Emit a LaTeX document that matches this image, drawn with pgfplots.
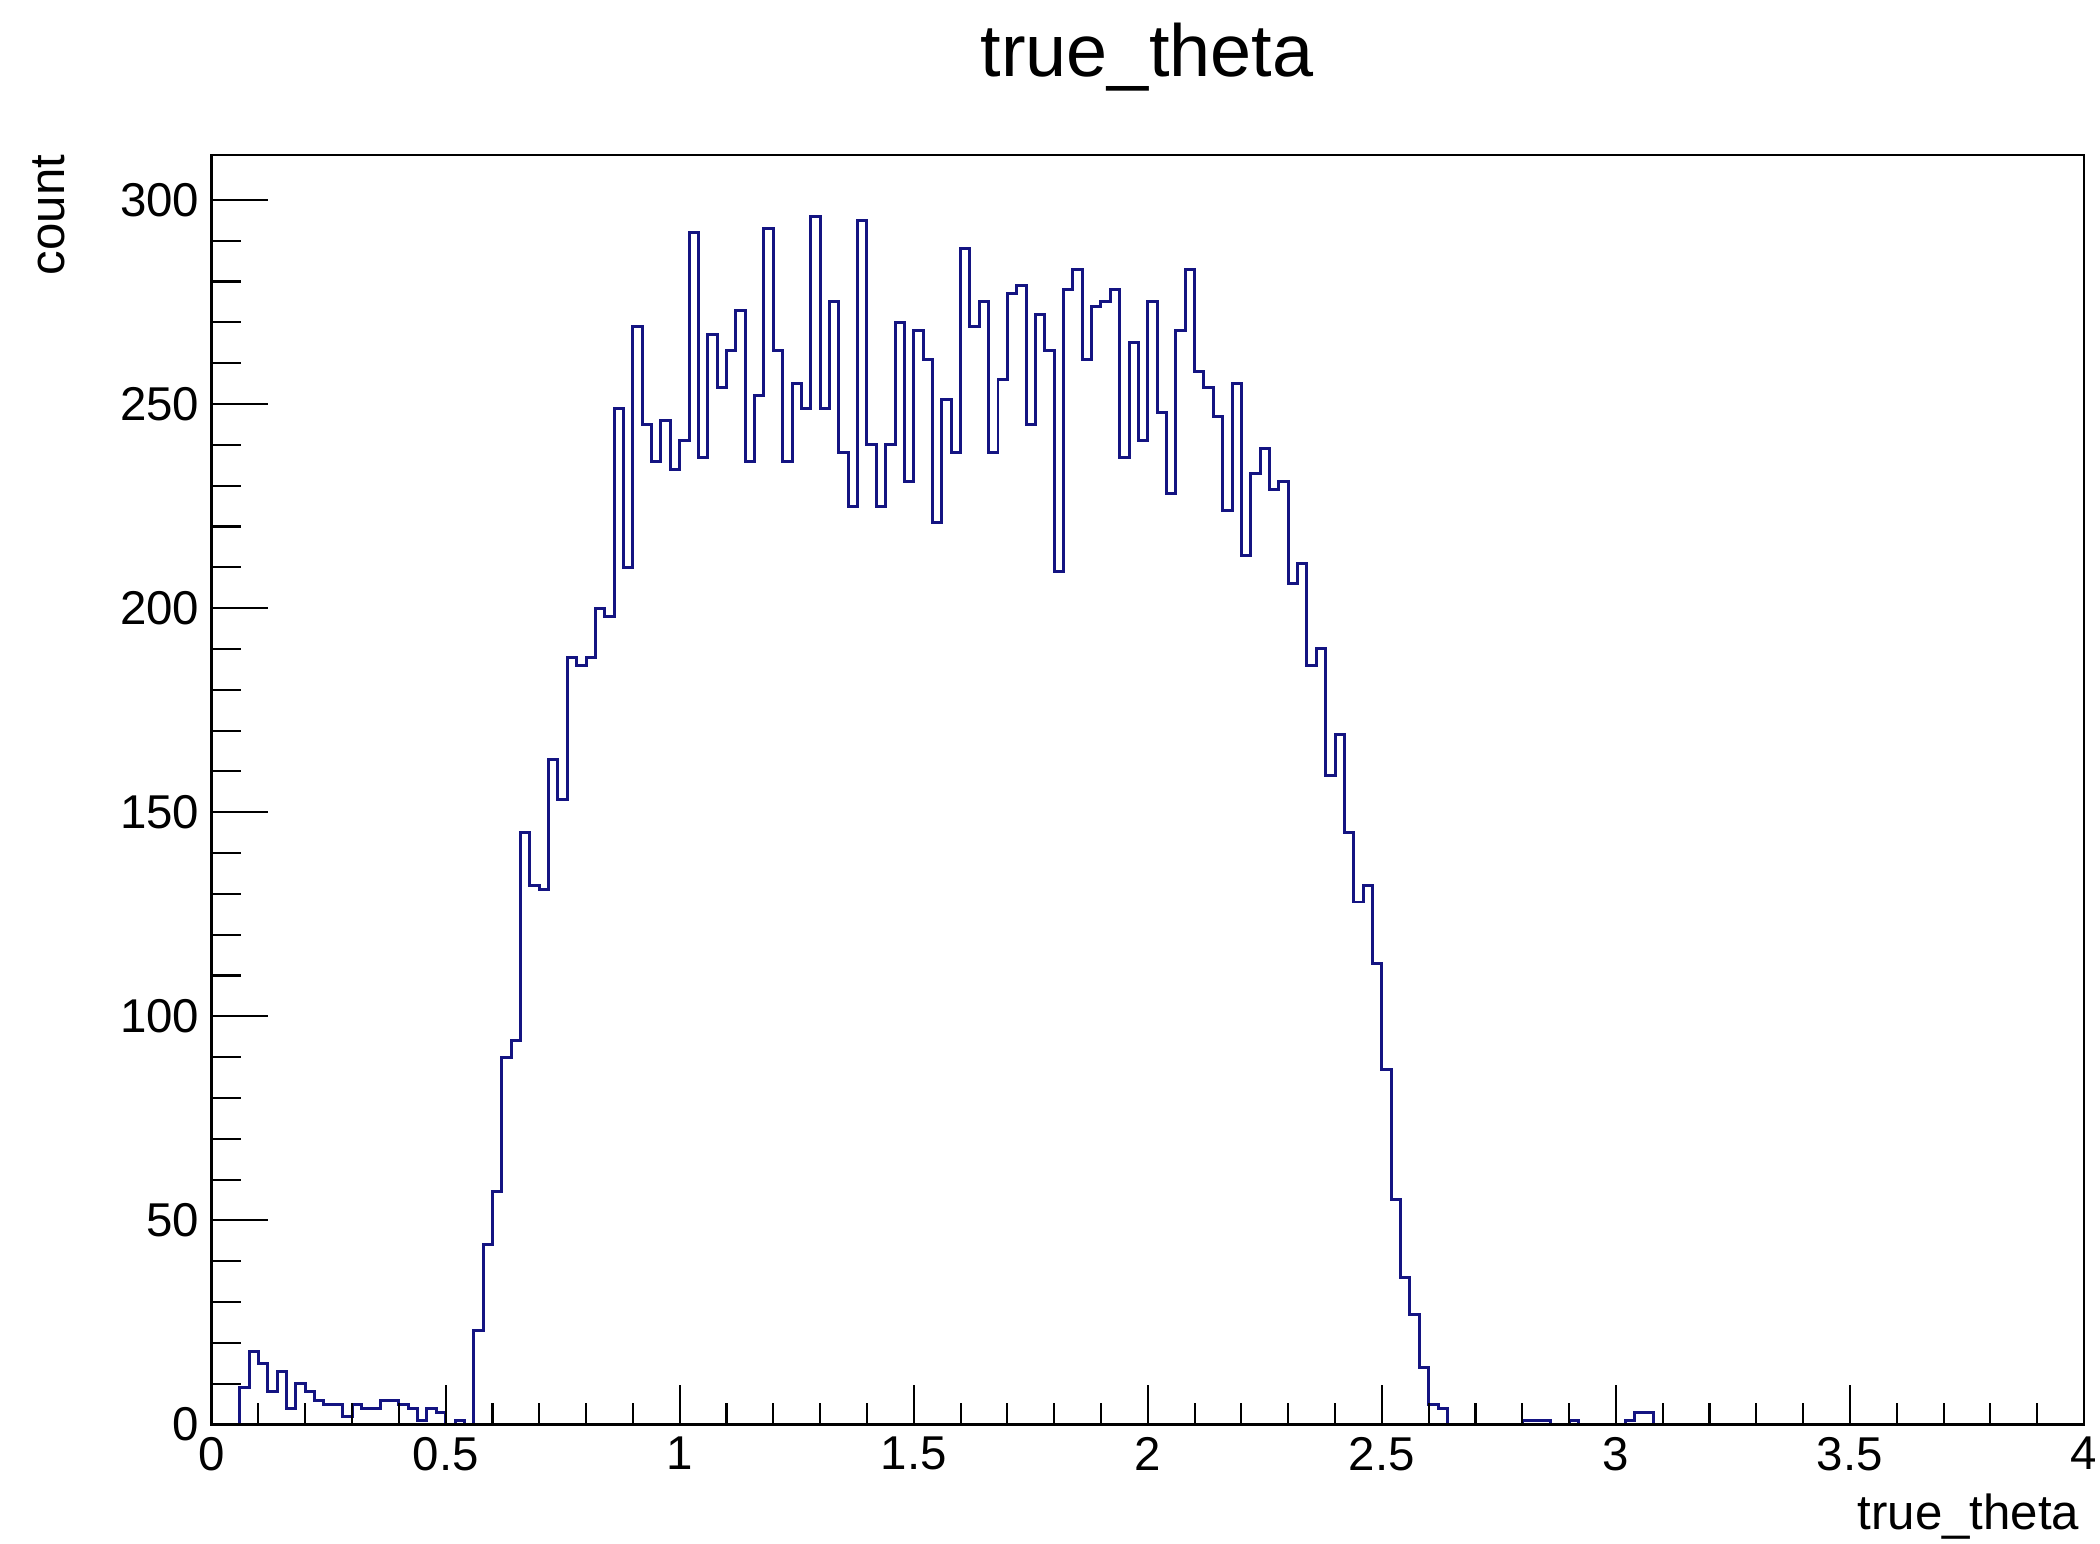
\documentclass[border=0pt]{standalone}
\usepackage{fontspec}
\setmainfont{Liberation Sans}
\usepackage{pgfplots}
\pgfplotsset{compat=1.18}
\definecolor{histblue}{RGB}{20,20,130}

\begin{document}
\begin{tikzpicture}
\useasboundingbox (0,0) rectangle (21cm,15.43cm);
\begin{axis}[
    at={(2.116cm,1.185cm)}, anchor=south west,
    scale only axis, width=18.724cm, height=12.695cm,
    xmin=0, xmax=4, ymin=0, ymax=311,
    axis on top,
    axis line style={line width=0.7pt},
    tick align=inside,
    xtick pos=left, ytick pos=left,
    xtick={0,0.5,...,4}, ytick={0,50,...,300},
    minor x tick num=4, minor y tick num=4,
    xtick style={line width=0.6pt, black, /pgfplots/major tick length=0.39cm, /pgfplots/minor tick length=0.21cm},
    ytick style={line width=0.6pt, black, /pgfplots/major tick length=0.56cm, /pgfplots/minor tick length=0.29cm},
    ticklabel style={font=\fontsize{13.5}{16}\selectfont},
    /pgf/number format/assume math mode=true,
    scaled y ticks=false,
]
    % bin left edge, count (bin width 0.02)
    \addplot[const plot, histblue, line width=0.85pt] coordinates {
        (0,0) (0.06,9) (0.08,18) (0.10,15) (0.12,8) (0.14,13) (0.16,4)
        (0.18,10) (0.20,8) (0.22,6) (0.24,5) (0.26,5) (0.28,2) (0.30,5)
        (0.32,4) (0.34,4) (0.36,6) (0.38,6) (0.40,5) (0.42,4) (0.44,1)
        (0.46,4) (0.48,3) (0.50,0) (0.52,1) (0.54,0)
        (0.56,23) (0.58,44) (0.60,57) (0.62,90) (0.64,94) (0.66,145)
        (0.68,132) (0.70,131) (0.72,163) (0.74,153) (0.76,188) (0.78,186)
        (0.80,188) (0.82,200) (0.84,198) (0.86,249) (0.88,210) (0.90,269)
        (0.92,245) (0.94,236) (0.96,246) (0.98,234) (1.00,241) (1.02,292)
        (1.04,237) (1.06,267) (1.08,254) (1.10,263) (1.12,273) (1.14,236)
        (1.16,252) (1.18,293) (1.20,263) (1.22,236) (1.24,255) (1.26,249)
        (1.28,296) (1.30,249) (1.32,275) (1.34,238) (1.36,225) (1.38,295)
        (1.40,240) (1.42,225) (1.44,240) (1.46,270) (1.48,231) (1.50,268)
        (1.52,261) (1.54,221) (1.56,251) (1.58,238) (1.60,288) (1.62,269)
        (1.64,275) (1.66,238) (1.68,256) (1.70,277) (1.72,279) (1.74,245)
        (1.76,272) (1.78,263) (1.80,209) (1.82,278) (1.84,283) (1.86,261)
        (1.88,274) (1.90,275) (1.92,278) (1.94,237) (1.96,265) (1.98,241)
        (2.00,275) (2.02,248) (2.04,228) (2.06,268) (2.08,283) (2.10,258)
        (2.12,254) (2.14,247) (2.16,224) (2.18,255) (2.20,213) (2.22,233)
        (2.24,239) (2.26,229) (2.28,231) (2.30,206) (2.32,211) (2.34,186)
        (2.36,190) (2.38,159) (2.40,169) (2.42,145) (2.44,128) (2.46,132)
        (2.48,113) (2.50,87) (2.52,55) (2.54,36) (2.56,27) (2.58,14)
        (2.60,5) (2.62,4) (2.64,0)
        (2.80,1) (2.82,1) (2.84,1) (2.86,0) (2.90,1) (2.92,0)
        (3.02,1) (3.04,3) (3.06,3) (3.08,0) (4,0)
    };
\end{axis}
\node[anchor=base, inner sep=0pt, font=\fontsize{21}{25}\selectfont] at (11.47cm,14.66cm) {true\_theta};
\node[anchor=base east, inner sep=0pt, font=\fontsize{14}{17}\selectfont] at (20.8cm,0.14cm) {true\_theta};
\node[rotate=90, anchor=base east, inner sep=0pt, font=\fontsize{14}{17}\selectfont] at (0.64cm,13.89cm) {count};
\end{tikzpicture}
\end{document}
